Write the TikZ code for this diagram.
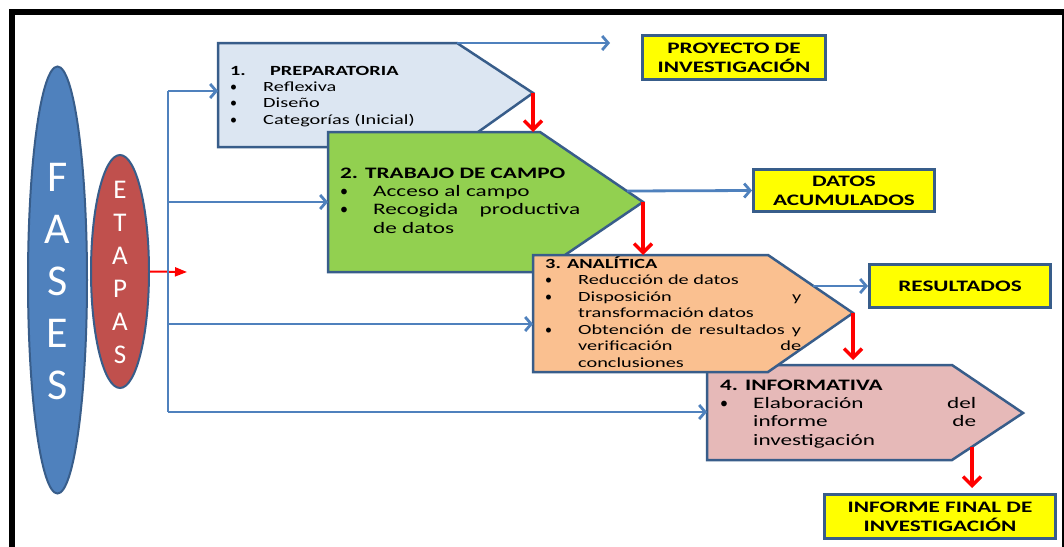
\documentclass[tikz,border=0pt]{standalone}
\usepackage{fontspec}
\setmainfont{Carlito}
\newfontfamily\cajafont{Carlito}[FakeStretch=1.45]
\usetikzlibrary{arrows.meta,shapes.geometric}
\definecolor{azul}{HTML}{4F81BD}
\definecolor{borde}{HTML}{385D8A}
\definecolor{granate}{HTML}{C0504D}
\definecolor{celeste}{HTML}{DCE6F2}
\definecolor{verde}{HTML}{92D050}
\definecolor{naranja}{HTML}{FAC090}
\definecolor{rosa}{HTML}{E6B9B8}
\definecolor{amarillo}{HTML}{FFFF00}
\newcommand\vineta{\makebox[33pt][l]{\rmfamily\textbullet}}
\newcommand\sangria{\hspace*{33pt}}
\begin{document}
\begin{tikzpicture}[x=1pt,y=-1pt,
  etapa/.style={draw=borde,line width=2.5pt},
  texto/.style={anchor=base west,align=left,inner sep=0pt},
  meta/.style={draw=borde,fill=amarillo,line width=3pt,align=center,inner sep=0pt,
    font=\cajafont\bfseries\fontsize{16}{19}\selectfont},
  flecha/.style={azul,line width=2.8pt,-{Straight Barb[length=6pt,width=14pt]}},
  baja/.style={red,line width=3.5pt,-{Straight Barb[length=9pt,width=18pt]}},
  elipse/.style={ellipse,draw=borde,line width=2pt,inner sep=0pt}]
\useasboundingbox (0,0) rectangle (1064,546);
\fill[white] (0,0) rectangle (1064,546);
\draw[line width=6pt] (12,560) -- (12,12) -- (1065,12) -- (1065,560);

% fases y etapas
\node[elipse,fill=azul,minimum width=59pt,minimum height=427pt] (fases) at (57.5,280) {};
\node[white,align=center,font=\fontsize{44}{52}\selectfont] (fases-txt) at (57.5,282) {F\\A\\S\\E\\S};
\node[elipse,fill=granate,minimum width=58pt,minimum height=233pt] (etapas) at (120,271.5) {};
\node[white,align=center,font=\fontsize{27}{33}\selectfont] (etapas-txt) at (120,272) {E\\T\\A\\P\\A\\S};
\coordinate (eje) at (187,272);
\draw[red,line width=2pt,-{Triangle[length=12pt,width=9pt]}] (etapas.east) -- (eje);

% tronco
\coordinate (t1) at (168,91);
\coordinate (t2) at (168,202);
\coordinate (t3) at (168,324);
\coordinate (t4) at (168,412);
\draw[azul,line width=2.8pt] (t1) -- (t4);

% etapas
\draw[etapa,fill=celeste] (218,43) coordinate (pre-a) -- (457,43) coordinate (pre-b)
  -- (533,93) coordinate (pre-tip) -- (457,147) -- (218,147) -- cycle;
\coordinate (pre-in) at (218,91);
\draw[etapa,fill=verde] (328,132) coordinate (cam-a) -- (540,132)
  -- (643,202) coordinate (cam-tip) -- (540,272) -- (328,272) -- cycle;
\coordinate (cam-in) at (328,202);
\coordinate (cam-out) at (627,191);
\draw[etapa,fill=rosa] (707,365) coordinate (inf-a) -- (952,365)
  -- (1023,413) coordinate (inf-tip) -- (952,460) -- (707,460) -- cycle;
\coordinate (inf-in) at (707,412);
\coordinate (inf-out) at (972,447);
\draw[etapa,fill=naranja] (533,255) coordinate (ana-a) -- (768,255)
  -- (853,313) coordinate (ana-tip) -- (768,372) -- (533,372) -- cycle;
\coordinate (ana-in) at (533,324);
\coordinate (ana-out) at (813,286);

% textos (anclados en la linea base de la ultima linea)
\node[texto,font=\cajafont\fontsize{14}{16.3}\selectfont] (pre) at (230,124)
  {\textbf{\makebox[40pt][l]{1.}PREPARATORIA}\\
   \vineta Reflexiva\\
   \vineta Diseño\\
   \vineta Categorías (Inicial)};
\node[texto,font=\cajafont\fontsize{16}{18.3}\selectfont] (cam) at (340,233)
  {\textbf{2. TRABAJO DE CAMPO}\\
   \vineta Acceso al campo\\
   \vineta \makebox[207pt][s]{Recogida productiva}\\
   \sangria de datos};
\node[texto,font=\cajafont\fontsize{14}{16.5}\selectfont] (ana) at (545,367)
  {\textbf{3. ANALÍTICA}\\
   \vineta Reducción de datos\\
   \vineta \makebox[223pt][s]{Disposición y}\\
   \sangria transformación datos\\
   \vineta \makebox[223pt][s]{Obtención de resultados y}\\
   \sangria \makebox[223pt][s]{verificación de}\\
   \sangria conclusiones};
\node[texto,font=\cajafont\fontsize{16}{18.3}\selectfont] (inf) at (720,445)
  {\textbf{4. INFORMATIVA}\\
   \vineta \makebox[223pt][s]{Elaboración del}\\
   \sangria \makebox[223pt][s]{informe de}\\
   \sangria investigación};

% productos
\node[meta,minimum width=183pt,minimum height=44pt] (proy) at (734,57.5) {PROYECTO DE\\INVESTIGACIÓN};
\node[meta,minimum width=181pt,minimum height=42pt] (datos) at (844,190.5) {DATOS\\ACUMULADOS};
\node[meta,minimum width=181pt,minimum height=43pt] (res) at (960,286) {RESULTADOS};
\node[meta,minimum width=231pt,minimum height=44pt] (fin) at (940,516.5) {INFORME FINAL DE\\INVESTIGACIÓN};
\coordinate (proy-in) at (610,43);

% flechas
\draw[flecha] (t1) -- (pre-in);
\draw[flecha] (t2) -- (cam-in);
\draw[flecha] (t3) -- (ana-in);
\draw[flecha] (t4) -- (inf-in);
\draw[flecha] (pre-b) -- (proy-in);
\draw[flecha] (cam-out) -- (datos.west);
\draw[flecha] (ana-out) -- (res.west);
\draw[baja] (pre-tip) -- (pre-tip |- cam-a);
\draw[baja] (cam-tip) -- (cam-tip |- ana-a);
\draw[baja,shorten >=5pt] (ana-tip) -- (ana-tip |- inf-a);
\draw[baja,shorten >=5pt] (inf-out) -- (inf-out |- fin.north);
\end{tikzpicture}
\end{document}
